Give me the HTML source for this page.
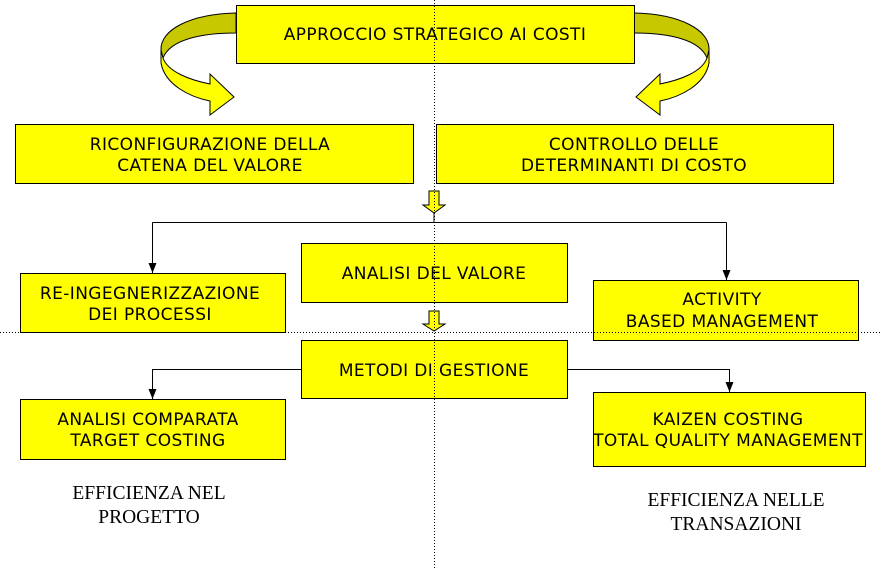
<!DOCTYPE html>
<html><head><style>
body{margin:0;background:#fff}
svg text{font-family:"DejaVu Sans","Liberation Sans",sans-serif;font-size:17px;letter-spacing:0.4px;fill:#000}
svg text.s{font-family:"Liberation Serif",serif;font-size:19.5px;letter-spacing:0}
</style></head><body>
<svg width="881" height="569" viewBox="0 0 881 569" xmlns="http://www.w3.org/2000/svg">
<defs>
<marker id="a" markerWidth="10" markerHeight="8" refX="10" refY="4" orient="auto" markerUnits="userSpaceOnUse" viewBox="0 0 10 8"><path d="M0,0 L10,4 L0,8z" fill="#000"/></marker>
<g id="curl">
<path d="M236,13 C190,14 160,30 161,50 L161,63 L163,58 C170,40 200,33 236,33 Z" fill="#c8c800" stroke="#000"/>
<path d="M161,50 L161,63 C165,85 190,97 210,101 L210,115 L234,97 L210,74 L210,84 C190,80 168,72 163,58 Z" fill="#ffff00" stroke="#000"/>
</g>
</defs>
<g stroke="#000" stroke-width="1" fill="#ffff00">
<use href="#curl"/>
<use href="#curl" transform="translate(870,0) scale(-1,1)"/>
<rect x="236.5" y="5.5" width="398" height="58"/>
<rect x="15.5" y="124.5" width="398" height="59"/>
<rect x="436.5" y="124.5" width="397" height="59"/>
<path d="M429,191 L439,191 L439,205 L445,205 L434,213 L423,205 L429,205Z"/>
<rect x="301.5" y="243.5" width="266" height="59"/>
<rect x="20.5" y="273.5" width="265" height="59"/>
<rect x="593.5" y="280.5" width="265" height="60"/>
<path d="M429,311 L439,311 L439,324 L445,324 L434,331 L423,324 L429,324Z"/>
<rect x="301.5" y="340.5" width="266" height="58"/>
<rect x="20.5" y="399.5" width="265" height="60"/>
<rect x="593.5" y="392.5" width="272" height="74"/>
</g>
<g stroke="#000" fill="none">
<path d="M434,213 V222.5 M152.5,222.5 H726.5"/>
<path d="M152.5,222.5 V273" marker-end="url(#a)"/>
<path d="M726.5,222.5 V280" marker-end="url(#a)"/>
<path d="M301,369.5 H152.5 V399" marker-end="url(#a)"/>
<path d="M567,369.5 H729.5 V392" marker-end="url(#a)"/>
<path d="M434.5,0 V569 M0,332.5 H881" stroke-dasharray="1,2"/>
</g>
<g text-anchor="middle">
<text x="435" y="40">APPROCCIO STRATEGICO AI COSTI</text>
<text x="210" y="150">RICONFIGURAZIONE DELLA</text>
<text x="210" y="171">CATENA DEL VALORE</text>
<text x="634" y="150">CONTROLLO DELLE</text>
<text x="634" y="171">DETERMINANTI DI COSTO</text>
<text x="434" y="279">ANALISI DEL VALORE</text>
<text x="150" y="299">RE-INGEGNERIZZAZIONE</text>
<text x="150" y="320">DEI PROCESSI</text>
<text x="722" y="305">ACTIVITY</text>
<text x="722" y="327">BASED MANAGEMENT</text>
<text x="434" y="376">METODI DI GESTIONE</text>
<text x="148" y="425">ANALISI COMPARATA</text>
<text x="148" y="446">TARGET COSTING</text>
<text x="728" y="425">KAIZEN COSTING</text>
<text x="728" y="446">TOTAL QUALITY MANAGEMENT</text>
<text class="s" x="149" y="499">EFFICIENZA NEL</text>
<text class="s" x="149" y="523">PROGETTO</text>
<text class="s" x="736" y="506">EFFICIENZA NELLE</text>
<text class="s" x="736" y="530">TRANSAZIONI</text>
</g>
</svg>
</body></html>
